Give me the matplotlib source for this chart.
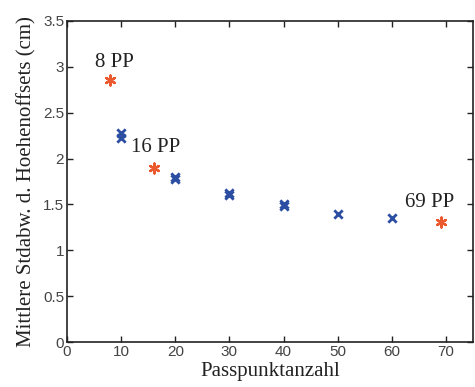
#!/usr/bin/env python3
"""Passpunktanzahl vs. mittlere Stdabw. der Hoehenoffsets."""
import matplotlib
matplotlib.use("Agg")
import matplotlib.pyplot as plt

# blue crosses (several runs per count)
blue_x = [10, 10, 20, 20, 30, 30, 40, 40, 50, 60]
blue_y = [2.28, 2.22, 1.80, 1.78, 1.62, 1.60, 1.50, 1.48, 1.40, 1.35]

# red asterisks (highlighted configurations)
red_x = [8, 16, 69]
red_y = [2.86, 1.90, 1.31]
red_labels = ["8 PP", "16 PP", "69 PP"]
label_pos = [(5.2, 3.05), (11.9, 2.12), (62.4, 1.52)]

x_ticks = [0, 10, 20, 30, 40, 50, 60, 70]
y_ticks = [0, 0.5, 1, 1.5, 2, 2.5, 3, 3.5]
y_ticklabels = ["0", "0.5", "1", "1.5", "2", "2.5", "3", "3.5"]

C_BLUE = "#2B4EA2"
C_RED = "#EB5A2E"
SERIF = ["Liberation Serif", "DejaVu Serif"]
SANS = ["Liberation Sans", "DejaVu Sans"]

fig = plt.figure(figsize=(4.75, 3.87), dpi=100)
ax = fig.add_axes([67 / 475, 1 - 342 / 387, (473 - 67) / 475, (342 - 21) / 387])

ax.scatter(blue_x, blue_y, marker="x", s=36, linewidths=2.0, color=C_BLUE, zorder=3)
ax.scatter(red_x, red_y, marker=(6, 2, 0), s=50, linewidths=1.7, color=C_RED, zorder=4)

for txt, (tx, ty) in zip(red_labels, label_pos):
    ax.text(tx, ty, txt, family=SERIF, fontsize=15, color="#222222", va="center", ha="left")

ax.set_xlim(0, 75)
ax.set_ylim(0, 3.5)
ax.set_xticks(x_ticks)
ax.set_yticks(y_ticks)
ax.set_yticklabels(y_ticklabels)
ax.tick_params(direction="in", top=True, right=True, length=4, width=1.0,
               labelsize=11, labelcolor="#444444", color="#222222", pad=2)
for lbl in ax.get_xticklabels() + ax.get_yticklabels():
    lbl.set_family(SANS)
for sp in ax.spines.values():
    sp.set_linewidth(1.2)
    sp.set_color("#222222")

ax.set_xlabel("Passpunktanzahl", family=SERIF, fontsize=15, color="#222222", labelpad=2)
ax.set_ylabel("Mittlere Stdabw. d. Hoehenoffsets (cm)", family=SERIF, fontsize=15,
              color="#222222", labelpad=5)

fig.savefig("out.png", dpi=100)
